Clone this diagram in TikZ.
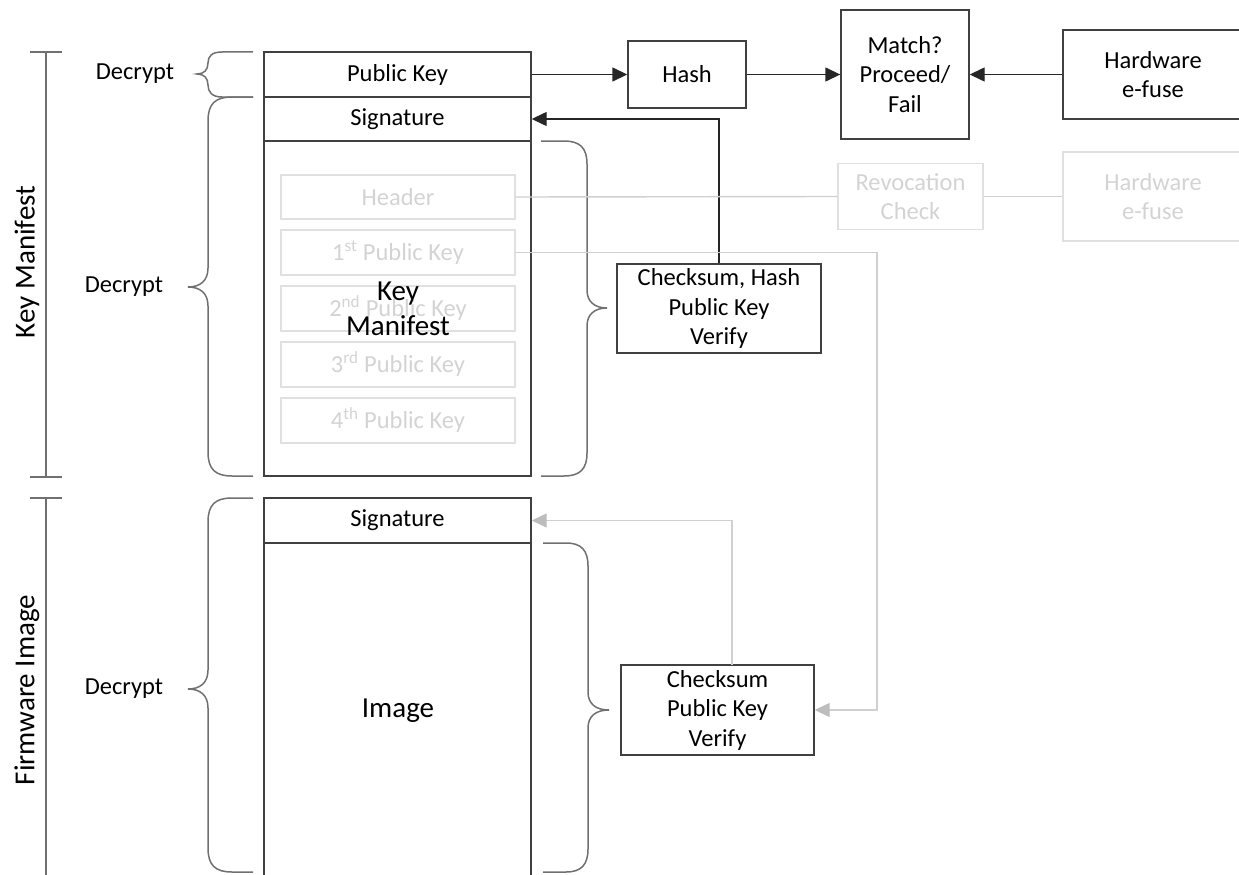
\documentclass[tikz,border=0pt]{standalone}
\usepackage{fontspec}
\setmainfont{Carlito}
\usetikzlibrary{arrows.meta}
\definecolor{boxline}{HTML}{404040}
\definecolor{braceline}{HTML}{707070}
\definecolor{ghostline}{HTML}{E0E0E0}
\definecolor{ghosttext}{HTML}{D3D3D3}
\definecolor{ghostconn}{HTML}{D0D0D0}
\definecolor{ghostarrow}{HTML}{BDBDBD}
\tikzset{
  box/.style={draw=boxline, line width=1.4pt, inner sep=0pt, align=center,
    font=\fontsize{24.5}{29.5}\selectfont, text=black},
  ghost/.style={draw=ghostline, line width=1.4pt, inner sep=0pt, align=center,
    font=\fontsize{24.5}{29.5}\selectfont, text=ghosttext},
  bracepath/.style={draw=braceline, line width=1.5pt},
  conn/.style={draw=black!85, line width=1.4pt, -{Triangle[length=15pt,width=14pt]}},
  ghostconnline/.style={draw=ghostconn, line width=1.4pt},
  ghostarr/.style={draw=ghostconn, line width=1.4pt, -{Triangle[length=15pt,width=14pt,color=ghostarrow]}},
  lbl/.style={inner sep=0pt, font=\fontsize{24.5}{29.5}\selectfont, text=black},
  biglbl/.style={inner sep=0pt, align=center, font=\fontsize{29}{35}\selectfont, text=black}
}
\begin{document}
\begin{tikzpicture}[x=1pt,y=-1pt]
\useasboundingbox (0,0) rectangle (1239,875);

% left brackets
\draw[bracepath] (30,52) -- (62,52) (46,52) -- (46,477) (30,477) -- (62,477);
\draw[bracepath] (30,498) -- (62,498) (46,498) -- (46,875);
\node[biglbl, rotate=90] (kmlabel) at (27,262) {Key Manifest};
\node[biglbl, rotate=90] (fwlabel) at (27,690) {Firmware Image};

% main column
\node[box, minimum width=267pt, minimum height=45pt] (pk) at (397.5,74.5) {Public Key};
\node[box, minimum width=267pt, minimum height=44pt] (sig1) at (397.5,119) {Signature};
\node[box, minimum width=267pt, minimum height=335pt] (km) at (397.5,308.5) {};
\node[box, minimum width=267pt, minimum height=45pt] (sig2) at (397.5,520.5) {Signature};
\draw[draw=boxline, line width=1.4pt] (264,876) -- (264,543) -- (531,543) -- (531,876);

% ghost boxes inside key manifest
\node[ghost, minimum width=234pt, minimum height=44pt] (hdr) at (398,197) {Header};
\node[ghost, minimum width=234pt, minimum height=45pt] (pk1) at (398,252.5) {1\textsuperscript{st} Public Key};
\node[ghost, minimum width=234pt, minimum height=45pt] (pk2) at (398,308.5) {2\textsuperscript{nd} Public Key};
\node[ghost, minimum width=234pt, minimum height=45pt] (pk3) at (398,364.5) {3\textsuperscript{rd} Public Key};
\node[ghost, minimum width=234pt, minimum height=45pt] (pk4) at (398,420.5) {4\textsuperscript{th} Public Key};
\node[biglbl] (kmtext) at (398,309) {Key\\Manifest};
\node[biglbl] (imgtext) at (398,711) {Image};

% left braces and labels
\draw[bracepath] (253,52) -- (222,52) .. controls (212,52) and (208,56) .. (208,63)
  .. controls (208,70) and (204,74) .. (197,74)
  .. controls (204,74) and (208,78) .. (208,85)
  .. controls (208,92) and (212,97) .. (222,97) -- (253,97);
\draw[bracepath] (253,97) -- (232,97) .. controls (215,97) and (208,104) .. (208,121) -- (208,268)
  .. controls (208,281) and (200,287) .. (188,287)
  .. controls (200,287) and (208,293) .. (208,306) -- (208,452)
  .. controls (208,469) and (215,476) .. (232,476) -- (253,476);
\draw[bracepath] (253,498) -- (232,498) .. controls (215,498) and (208,505) .. (208,522) -- (208,670)
  .. controls (208,683) and (200,689) .. (188,689)
  .. controls (200,689) and (208,695) .. (208,708) -- (208,848)
  .. controls (208,865) and (215,872) .. (232,872) -- (253,872);
\node[lbl] (dec1) at (135,74) {Decrypt};
\node[lbl] (dec2) at (124,287) {Decrypt};
\node[lbl] (dec3) at (124,689) {Decrypt};

% right braces
\draw[bracepath] (541,141) -- (564,141) .. controls (580,141) and (587,148) .. (587,164) -- (587,290)
  .. controls (587,302) and (595,308) .. (607,308)
  .. controls (595,308) and (587,314) .. (587,326) -- (587,453)
  .. controls (587,469) and (580,476) .. (564,476) -- (541,476);
\draw[bracepath] (543,543) -- (566,543) .. controls (581,543) and (588,550) .. (588,566) -- (588,692)
  .. controls (588,704) and (596,710) .. (609,710)
  .. controls (596,710) and (588,716) .. (588,728) -- (588,849)
  .. controls (588,865) and (581,872) .. (566,872) -- (543,872);

% top row
\node[box, minimum width=118pt, minimum height=67pt] (hash) at (687,74.5) {Hash};
\node[box, minimum width=128pt, minimum height=129pt] (match) at (905,74.5) {Match?\\Proceed/\\Fail};
\node[box, minimum width=190pt, minimum height=89pt] (hw) at (1158,74.5) {\hspace*{-10pt}Hardware\\\hspace*{-10pt}e-fuse};

% ghost row
\node[ghost, minimum width=145pt, minimum height=66pt] (rev) at (910.5,196.5) {Revocation\\Check};
\node[ghost, minimum width=190pt, minimum height=89pt] (hw2) at (1158,196.5) {\hspace*{-10pt}Hardware\\\hspace*{-10pt}e-fuse};

% checksum boxes
\node[box, minimum width=204pt, minimum height=89pt] (ckA) at (719,308.5) {Checksum, Hash\\Public Key\\Verify};
\node[box, minimum width=193pt, minimum height=90pt] (ckB) at (717.5,710) {Checksum\\Public Key\\Verify};
\coordinate (ckBtop) at (732,665);
\coordinate (gbend) at (877,252.5);

% connectors
\draw[conn] (pk.east) -- (hash.west);
\draw[conn] (hash.east) -- (match.west);
\draw[conn] (hw.west) -- (match.east);
\draw[conn] (ckA.north) |- (sig1.east);
\draw[ghostconnline] (hdr.east) -- (rev.west);
\draw[ghostconnline] (rev.east) -- (hw2.west);
\draw[ghostarr] (pk1.east) -- (gbend) |- (ckB.east);
\draw[ghostarr] (ckBtop) |- (sig2.east);
\end{tikzpicture}
\end{document}
